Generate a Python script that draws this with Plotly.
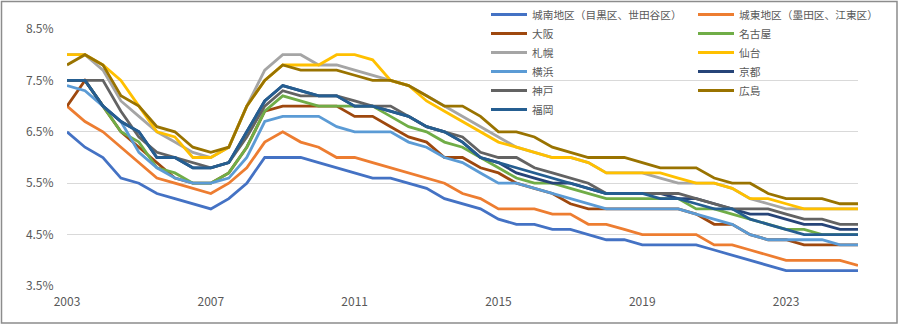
import plotly.graph_objects as go

periods = [2003.0, 2003.5, 2004.0, 2004.5, 2005.0, 2005.5, 2006.0, 2006.5, 2007.0, 2007.5,
           2008.0, 2008.5, 2009.0, 2009.5, 2010.0, 2010.5, 2011.0, 2011.5, 2012.0, 2012.5,
           2013.0, 2013.5, 2014.0, 2014.5, 2015.0, 2015.5, 2016.0, 2016.5, 2017.0, 2017.5,
           2018.0, 2018.5, 2019.0, 2019.5, 2020.0, 2020.5, 2021.0, 2021.5, 2022.0, 2022.5,
           2023.0, 2023.5, 2024.0, 2024.5, 2025.0]

tick_years = [2003, 2007, 2011, 2015, 2019, 2023]
tick_labels = ["2003", "2007", "2011", "2015", "2019", "2023"]

jonan = [6.5, 6.2, 6.0, 5.6, 5.5, 5.3, 5.2, 5.1, 5.0, 5.2, 5.5,
         6.0, 6.0, 6.0, 5.9, 5.8, 5.7, 5.6, 5.6, 5.5, 5.4, 5.2,
         5.1, 5.0, 4.8, 4.7, 4.7, 4.6, 4.6, 4.5, 4.4, 4.4, 4.3,
         4.3, 4.3, 4.3, 4.2, 4.1, 4.0, 3.9, 3.8, 3.8, 3.8, 3.8, 3.8]
joto = [7.0, 6.7, 6.5, 6.2, 5.9, 5.6, 5.5, 5.4, 5.3, 5.5, 5.8,
        6.3, 6.5, 6.3, 6.2, 6.0, 6.0, 5.9, 5.8, 5.7, 5.6, 5.5,
        5.3, 5.2, 5.0, 5.0, 5.0, 4.9, 4.9, 4.7, 4.7, 4.6, 4.5,
        4.5, 4.5, 4.5, 4.3, 4.3, 4.2, 4.1, 4.0, 4.0, 4.0, 4.0, 3.9]
osaka = [7.0, 7.5, 7.0, 6.5, 6.2, 5.9, 5.6, 5.5, 5.5, 5.7, 6.2,
         6.9, 7.0, 7.0, 7.0, 7.0, 6.8, 6.8, 6.6, 6.4, 6.3, 6.0,
         6.0, 5.8, 5.7, 5.5, 5.4, 5.3, 5.1, 5.0, 5.0, 5.0, 5.0,
         5.0, 5.0, 4.9, 4.7, 4.7, 4.5, 4.4, 4.4, 4.3, 4.3, 4.3, 4.3]
nagoya = [7.5, 7.5, 7.0, 6.5, 6.3, 5.8, 5.7, 5.5, 5.5, 5.7, 6.2,
          6.9, 7.2, 7.1, 7.0, 7.0, 7.0, 7.0, 6.8, 6.6, 6.5, 6.3,
          6.2, 6.0, 5.8, 5.6, 5.5, 5.5, 5.4, 5.3, 5.2, 5.2, 5.2,
          5.2, 5.2, 5.0, 5.0, 4.9, 4.8, 4.7, 4.6, 4.6, 4.5, 4.5, 4.5]
sapporo = [8.0, 8.0, 7.7, 7.1, 6.8, 6.5, 6.3, 6.1, 6.0, 6.2, 7.0,
           7.7, 8.0, 8.0, 7.8, 7.8, 7.7, 7.6, 7.5, 7.4, 7.2, 7.0,
           6.8, 6.6, 6.4, 6.2, 6.1, 6.0, 6.0, 5.9, 5.7, 5.7, 5.7,
           5.6, 5.5, 5.5, 5.5, 5.4, 5.2, 5.1, 5.0, 5.0, 5.0, 5.0, 5.0]
sendai = [8.0, 8.0, 7.8, 7.5, 7.0, 6.5, 6.4, 6.0, 6.0, 6.2, 7.0,
          7.5, 7.8, 7.8, 7.8, 8.0, 8.0, 7.9, 7.5, 7.4, 7.1, 6.9,
          6.7, 6.5, 6.3, 6.2, 6.1, 6.0, 6.0, 5.9, 5.7, 5.7, 5.7,
          5.7, 5.6, 5.5, 5.5, 5.4, 5.2, 5.2, 5.1, 5.0, 5.0, 5.0, 5.0]
yokohama = [7.4, 7.3, 7.0, 6.7, 6.1, 5.8, 5.6, 5.5, 5.5, 5.6, 6.0,
            6.7, 6.8, 6.8, 6.8, 6.6, 6.5, 6.5, 6.5, 6.3, 6.2, 6.0,
            5.9, 5.7, 5.5, 5.5, 5.4, 5.3, 5.2, 5.1, 5.0, 5.0, 5.0,
            5.0, 5.0, 4.9, 4.8, 4.7, 4.5, 4.4, 4.4, 4.4, 4.4, 4.3, 4.3]
kyoto = [7.5, 7.5, 7.0, 6.7, 6.5, 6.0, 6.0, 5.8, 5.8, 5.9, 6.5,
         7.1, 7.4, 7.3, 7.2, 7.2, 7.0, 7.0, 6.9, 6.8, 6.6, 6.5,
         6.3, 6.0, 5.9, 5.7, 5.6, 5.5, 5.5, 5.4, 5.3, 5.3, 5.3,
         5.3, 5.2, 5.2, 5.1, 5.0, 4.9, 4.9, 4.8, 4.7, 4.7, 4.6, 4.6]
kobe = [7.5, 7.5, 7.5, 6.9, 6.4, 6.1, 6.0, 5.9, 5.8, 5.9, 6.4,
        7.0, 7.3, 7.2, 7.2, 7.2, 7.1, 7.0, 7.0, 6.8, 6.6, 6.5,
        6.4, 6.1, 6.0, 6.0, 5.8, 5.7, 5.6, 5.5, 5.3, 5.3, 5.3,
        5.3, 5.3, 5.2, 5.1, 5.0, 5.0, 5.0, 4.9, 4.8, 4.8, 4.7, 4.7]
hiroshima = [7.8, 8.0, 7.8, 7.2, 7.0, 6.6, 6.5, 6.2, 6.1, 6.2, 7.0,
             7.5, 7.8, 7.7, 7.7, 7.7, 7.6, 7.5, 7.5, 7.4, 7.2, 7.0,
             7.0, 6.8, 6.5, 6.5, 6.4, 6.2, 6.1, 6.0, 6.0, 6.0, 5.9,
             5.8, 5.8, 5.8, 5.6, 5.5, 5.5, 5.3, 5.2, 5.2, 5.2, 5.1, 5.1]
fukuoka = [7.5, 7.5, 7.0, 6.7, 6.5, 6.0, 6.0, 5.8, 5.8, 5.9, 6.5,
           7.1, 7.4, 7.3, 7.2, 7.2, 7.0, 7.0, 6.9, 6.8, 6.6, 6.5,
           6.3, 6.0, 5.9, 5.8, 5.7, 5.6, 5.5, 5.4, 5.3, 5.3, 5.3,
           5.2, 5.2, 5.1, 5.0, 5.0, 4.8, 4.7, 4.6, 4.5, 4.5, 4.5, 4.5]

series = [
    ("城南地区（目黒区、世田谷区）", jonan, "#4472C4", "legend"),
    ("城東地区（墨田区、江東区）", joto, "#ED7D31", "legend2"),
    ("大阪", osaka, "#9E480E", "legend"),
    ("名古屋", nagoya, "#70AD47", "legend2"),
    ("札幌", sapporo, "#A5A5A5", "legend"),
    ("仙台", sendai, "#FFC000", "legend2"),
    ("横浜", yokohama, "#5B9BD5", "legend"),
    ("京都", kyoto, "#264478", "legend2"),
    ("神戸", kobe, "#636363", "legend"),
    ("広島", hiroshima, "#997300", "legend2"),
    ("福岡", fukuoka, "#255E91", "legend"),
]

W, H = 900, 326
ML, MR, MT, MB = 67, 42, 29, 40
PW, PH = W - ML - MR, H - MT - MB

def px_x(p):
    return (p - ML) / PW

def px_y(p):
    return (H - MB - p) / PH

FONT = "Meiryo, Noto Sans CJK JP, Noto Sans, sans-serif"

fig = go.Figure()
for name, vals, color, leg in series:
    fig.add_trace(go.Scatter(x=periods, y=vals, name=name, mode="lines",
                             line=dict(color=color, width=2.8),
                             legend=leg))

legend_common = dict(yanchor="top", xanchor="left", bgcolor="rgba(0,0,0,0)",
                     font=dict(family=FONT, size=10.7, color="#595959"),
                     itemwidth=36, traceorder="normal")

fig.update_layout(
    width=W, height=H,
    margin=dict(l=ML, r=MR, t=MT, b=MB, autoexpand=False),
    paper_bgcolor="white", plot_bgcolor="white",
    font=dict(family=FONT, color="#595959"),
    showlegend=True,
    legend=dict(x=px_x(486), y=px_y(0), **legend_common),
    legend2=dict(x=px_x(693), y=px_y(0), **legend_common),
    xaxis=dict(range=[periods[0], periods[-1]], tickmode="array",
               tickvals=tick_years, ticktext=tick_labels,
               showgrid=False, zeroline=False, showline=False,
               ticks="outside", ticklen=5, tickcolor="rgba(0,0,0,0)",
               tickfont=dict(family=FONT, size=12, color="#595959")),
    yaxis=dict(range=[3.5, 8.5], tick0=3.5, dtick=1, tickformat=".1f",
               ticksuffix="%", showgrid=True, gridcolor="#d9d9d9", gridwidth=1.2,
               zeroline=False, showline=False,
               ticks="outside", ticklen=10, tickcolor="rgba(0,0,0,0)",
               tickfont=dict(family=FONT, size=12, color="#595959")),
    shapes=[dict(type="rect", xref="paper", yref="paper",
                 x0=px_x(1.5), x1=px_x(897), y0=px_y(323), y1=px_y(1.5),
                 line=dict(color="#8c8c8c", width=1.5), layer="above")],
)

fig.write_html("out.html")
